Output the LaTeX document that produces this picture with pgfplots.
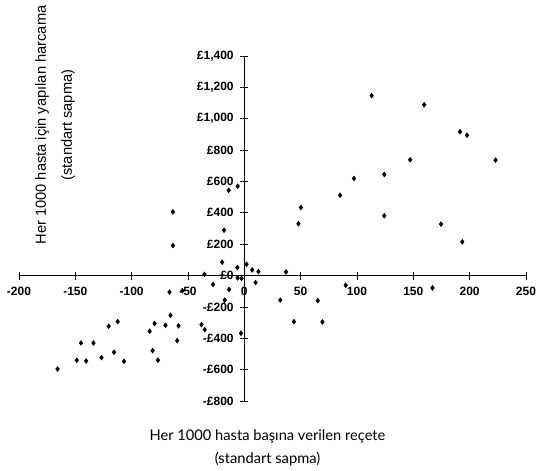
\documentclass[border=0pt]{standalone}
\usepackage{fontspec}
\setmainfont{Liberation Sans}
\newfontfamily\latofont{Lato}
\usepackage{pgfplots}
\pgfplotsset{compat=1.18}

\begin{document}
\begin{tikzpicture}
\begin{axis}[
    scale only axis,
    width=380.25pt,
    height=258.75pt,
    xmin=-200, xmax=250,
    ymin=-800, ymax=1400,
    axis lines=middle,
    axis line style={-, line width=0.9pt},
    hide obscured x ticks=false,
    hide obscured y ticks=false,
    xtick={-200,-150,...,250},
    xticklabels={-200,-150,-100,-50,0,50,100,150,200,250},
    ytick={-800,-600,...,1400},
    yticklabels={-£800,-£600,-£400,-£200,£0,£200,£400,£600,£800,{£1,000},{£1,200},{£1,400}},
    tick align=center,
    major tick length=6pt,
    tick style={black, line width=0.6pt},
    ticklabel style={font=\fontsize{9}{10}\selectfont\bfseries},
    xticklabel style={yshift=-2.5pt},
    yticklabel style={xshift=-1.5pt},
]
\addplot[only marks, mark=diamond*, mark size=1.8pt, black] coordinates {
    (113,1147) (159.6,1089) (191.4,917) (197.6,895) (223,736)
    (147.2,738) (124.2,645) (97.3,619) (85,512) (50.2,434)
    (48,330) (124.2,381) (174.6,328) (193.5,215) (90,-62)
    (167,-79) (65.2,-160) (44,-294) (69.3,-296) (31.9,-157)
    (37,23) (2,72) (7,36) (12.5,25) (10,-45)
    (-5.9,570) (-13.9,544) (-63.4,406) (-63.4,191) (-18,289)
    (-19.7,85) (-6.2,51) (-6,-15) (-2.5,-18) (-35.4,8)
    (-27.7,-57) (-13.5,-89) (-17.4,-157) (-66.4,-106) (-55,-96)
    (-38,-313) (-35.1,-345) (-3,-368) (-65.5,-253) (-79.6,-306)
    (-70,-317) (-58.4,-321) (-59.6,-415) (-84,-355) (-81.4,-479)
    (-76.7,-540) (-112.4,-294) (-120.4,-323) (-133.9,-430) (-145,-430)
    (-115.7,-489) (-126.8,-523) (-106.8,-547) (-140.4,-545) (-148.7,-540)
    (-165.8,-596)
};
\end{axis}
\node[font=\latofont\fontsize{11}{13}\selectfont] at (186.4pt,-26.25pt) {Her 1000 hasta başına verilen reçete};
\node[font=\latofont\fontsize{11}{13}\selectfont] at (186.4pt,-43.5pt) {(standart sapma)};
\node[rotate=90, font=\fontsize{11}{13}\selectfont] at (17.25pt,207pt) {Her 1000 hasta için yapılan harcama};
\node[rotate=90, font=\fontsize{11}{13}\selectfont] at (36.75pt,207pt) {(standart sapma)};
\pgfresetboundingbox
\path (-14.25pt,-52.5pt) rectangle (387.75pt,300.75pt);
\end{tikzpicture}
\end{document}
